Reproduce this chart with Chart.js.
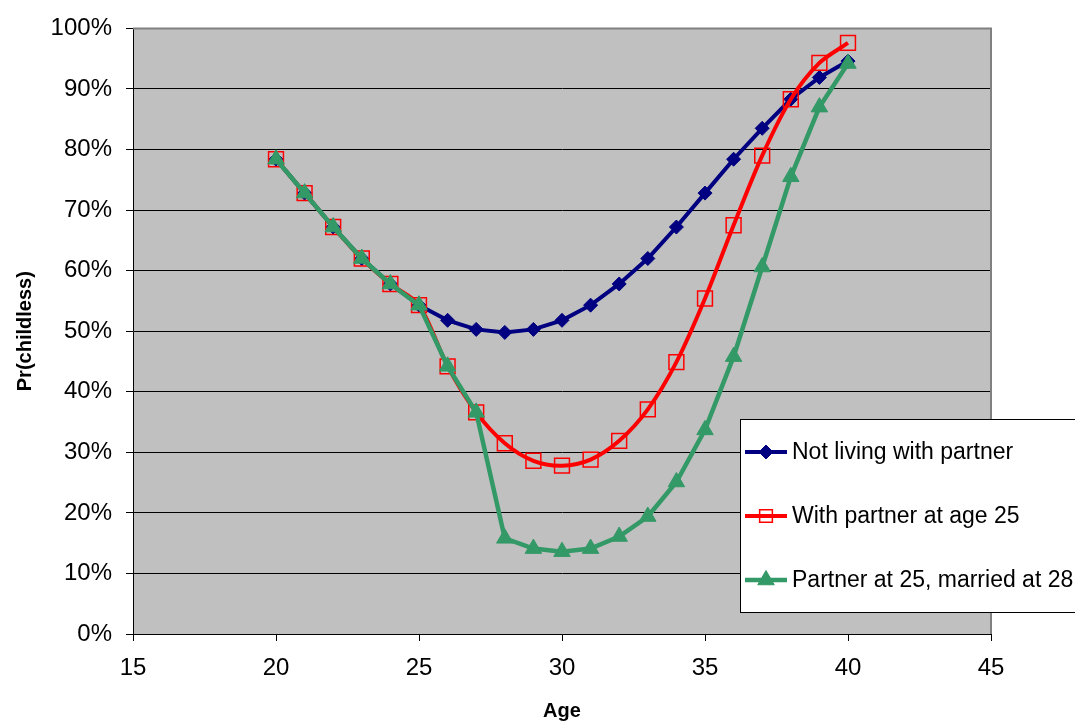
<!DOCTYPE html>
<html>
<head>
<meta charset="utf-8">
<title>Pr(childless) by age</title>
<script src="https://cdn.jsdelivr.net/npm/chart.js@4.4.0/dist/chart.umd.min.js"></script>
<style>
    html, body { margin: 0; padding: 0; background: #fff; }
    #wrap { width: 1075px; height: 724px; position: relative; }
</style>
</head>
<body>
<div id="wrap"><canvas id="chart"></canvas></div>
<script>
// ages on the x axis
const ages = [20, 21, 22, 23, 24, 25, 26, 27, 28, 29, 30, 31, 32, 33, 34, 35, 36, 37, 38, 39, 40];

// Pr(childless), in percent
const notLiving = [78.4, 72.8, 67.2, 62.0, 57.8, 54.3, 51.8, 50.3, 49.8, 50.3, 51.8, 54.3, 57.8, 62.0, 67.2, 72.8, 78.4, 83.5, 88.3, 91.9, 94.6];
const partner25 = [78.4, 72.8, 67.2, 62.0, 57.8, 54.3, 44.2, 36.6, 31.5, 28.6, 27.8, 28.8, 31.9, 37.1, 44.9, 55.4, 67.5, 79.0, 88.3, 94.3, 97.6];
const married28 = [78.4, 72.8, 67.2, 62.0, 57.8, 54.3, 44.2, 36.6, 15.8, 14.1, 13.6, 14.1, 16.1, 19.4, 25.1, 33.7, 45.8, 60.6, 75.5, 87.0, 94.2];

const seriesNames = ['Not living with partner', 'With partner at age 25', 'Partner at 25, married at 28'];

const FONT = '"Liberation Sans", Arial, sans-serif';

function toPoints(values) {
    return ages.map((a, i) => ({ x: a, y: values[i] }));
}

// grey plot area with its frame
const plotBackground = {
    id: 'plotBackground',
    beforeDraw(chart) {
        const { ctx, chartArea: a } = chart;
        ctx.save();
        ctx.fillStyle = '#C0C0C0';
        ctx.fillRect(a.left, a.top, a.right - a.left, a.bottom - a.top);
        ctx.restore();
    },
    beforeDatasetsDraw(chart) {
        const { ctx, chartArea: a } = chart;
        ctx.save();
        ctx.strokeStyle = '#808080';
        ctx.lineWidth = 2;
        ctx.beginPath();
        ctx.moveTo(a.left, a.top);
        ctx.lineTo(a.right, a.top);
        ctx.lineTo(a.right, a.bottom);
        ctx.stroke();
        ctx.restore();
    }
};

// boxed legend sitting over the bottom right of the plot
const boxLegend = {
    id: 'boxLegend',
    afterDraw(chart) {
        const ctx = chart.ctx;
        const left = 740.5, top = 419.5, width = 400, height = 193;
        const rows = [452, 516, 580];
        ctx.save();
        ctx.fillStyle = '#fff';
        ctx.fillRect(left, top, width, height);
        ctx.strokeStyle = '#000';
        ctx.lineWidth = 1;
        ctx.strokeRect(left, top, width, height);

        chart.data.datasets.forEach((ds, i) => {
            const y = rows[i];
            ctx.strokeStyle = ds.borderColor;
            ctx.lineWidth = ds.borderWidth;
            ctx.beginPath();
            ctx.moveTo(745, y);
            ctx.lineTo(787, y);
            ctx.stroke();
            ctx.fillStyle = ds.pointBackgroundColor;
            ctx.strokeStyle = ds.pointBorderColor;
            ctx.lineWidth = ds.pointBorderWidth;
            Chart.helpers.drawPoint(ctx, {
                pointStyle: ds.pointStyle,
                radius: ds.legendRadius,
                rotation: 0,
                borderWidth: ds.pointBorderWidth
            }, 766, y);
            ctx.fillStyle = '#000';
            ctx.font = '23px ' + FONT;
            ctx.textBaseline = 'middle';
            ctx.textAlign = 'left';
            ctx.fillText(ds.label, 792, y + 1);
        });
        ctx.restore();
    }
};

new Chart(document.getElementById('chart'), {
    type: 'line',
    data: {
        datasets: [
            {
                label: seriesNames[0],
                data: toPoints(notLiving),
                borderColor: '#000080',
                backgroundColor: '#000080',
                pointBackgroundColor: '#000080',
                pointBorderColor: '#000080',
                pointStyle: 'rectRot',
                pointRadius: 7,
                legendRadius: 7,
                pointBorderWidth: 1,
                borderWidth: 4,
                tension: 0,
                order: 2
            },
            {
                label: seriesNames[1],
                data: toPoints(partner25),
                borderColor: '#FF0000',
                backgroundColor: 'rgba(0,0,0,0)',
                pointBackgroundColor: 'rgba(0,0,0,0)',
                pointBorderColor: '#FF0000',
                pointStyle: 'rect',
                pointRadius: 10.5,
                legendRadius: 9,
                pointBorderWidth: 1.5,
                borderWidth: 4,
                tension: 0.3,
                order: 1
            },
            {
                label: seriesNames[2],
                data: toPoints(married28),
                borderColor: '#339966',
                backgroundColor: '#339966',
                pointBackgroundColor: '#339966',
                pointBorderColor: '#339966',
                pointStyle: 'triangle',
                pointRadius: 9.5,
                legendRadius: 9.5,
                pointBorderWidth: 1,
                borderWidth: 4.5,
                tension: 0,
                order: 0
            }
        ]
    },
    options: {
        responsive: true,
        maintainAspectRatio: false,
        animation: false,
        layout: { padding: { left: 0, top: 28, right: 84, bottom: 0 } },
        plugins: {
            legend: { display: false },
            tooltip: { enabled: false }
        },
        elements: { point: { hoverRadius: 8 } },
        scales: {
            x: {
                type: 'linear',
                min: 15,
                max: 45,
                ticks: { stepSize: 5, color: '#000', font: { family: FONT, size: 24 }, padding: 13, maxRotation: 0 },
                grid: { drawOnChartArea: false, drawTicks: true, tickLength: 7, color: '#000', tickColor: '#000' },
                border: { color: '#000', width: 1 },
                title: { display: true, text: 'Age', color: '#000', font: { family: FONT, size: 20, weight: 'bold' }, padding: { top: 0, bottom: 1 } },
                afterFit(scale) { scale.height = 90; }
            },
            y: {
                min: 0,
                max: 100,
                ticks: { stepSize: 10, color: '#000', font: { family: FONT, size: 24 }, padding: 14, callback: v => v + '%' },
                grid: { color: c => (c.tick && c.tick.value === 100 ? '#808080' : '#000'), lineWidth: 1, tickLength: 7, tickColor: '#000' },
                border: { color: '#000', width: 1 },
                title: { display: true, text: 'Pr(childless)', color: '#000', font: { family: FONT, size: 20, weight: 'bold' }, padding: { top: 13, bottom: 0 } },
                afterFit(scale) { scale.width = 133; }
            }
        }
    },
    plugins: [plotBackground, boxLegend]
});
</script>
</body>
</html>
